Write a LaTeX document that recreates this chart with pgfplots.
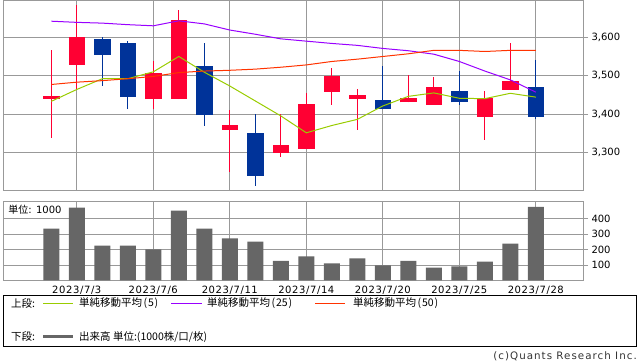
\documentclass[border=0pt]{standalone}
\usepackage{pgfplots}
\pgfplotsset{compat=1.18}
\usepackage{pgfplotstable}
\usepackage{fontspec}
\setmainfont{DejaVu Sans}
\newfontfamily\jp{Noto Sans CJK JP}
\newfontfamily\dls[LetterSpace=6]{DejaVu Sans}
\newfontfamily\dlw[LetterSpace=10]{DejaVu Sans}
\definecolor{upc}{RGB}{255,0,51}
\definecolor{dnc}{RGB}{0,51,153}
\definecolor{maf}{RGB}{153,204,0}
\definecolor{mam}{RGB}{153,0,255}
\definecolor{mas}{RGB}{255,51,0}
\definecolor{vol}{RGB}{102,102,102}
\definecolor{grd}{RGB}{153,153,153}

\pgfplotstableread{
x open high low close
0 3440 3567 3338 3447
1 3528 3683 3463 3601
4 3439 3537 3413 3507
5 3439 3671 3439 3645
7 3359 3410 3250 3371
9 3299 3400 3289 3319
10 3310 3455 3310 3426
11 3458 3520 3424 3500
12 3440 3465 3359 3450
14 3430 3501 3430 3442
15 3424 3497 3424 3470
17 3393 3460 3333 3442
18 3463 3585 3463 3486
}\up
\pgfplotstableread{
x open high low close
2 3596 3601 3474 3554
3 3585 3590 3413 3444
6 3525 3585 3369 3398
8 3350 3400 3213 3239
13 3437 3525 3414 3414
16 3460 3512 3424 3430
19 3470 3541 3388 3393
}\down
\pgfplotstableread{
x ma5 ma25 ma50 vol
0 3433 3642 3477 337
1 3464 3639 3483 473
2 3492 3637 3487 225
3 3492 3633 3492 225
4 3510 3630 3498 201
5 3550 3643 3508 454
6 3509 3635 3512 337
7 3473 3619 3514 272
8 3434 3608 3517 251
9 3395 3596 3522 127
10 3351 3590 3528 156
11 3370 3584 3537 110
12 3386 3579 3543 143
13 3421 3571 3550 97
14 3446 3565 3557 127
15 3455 3556 3566 82
16 3441 3537 3566 91
17 3440 3512 3563 121
18 3454 3489 3566 238
19 3444 3457 3566 477
}\ma

\pgfplotsset{
  panel/.style={
    scale only axis, anchor=south west,
    width=580bp,
    xmin=-1.894, xmax=20.85,
    axis line style={grd, line width=0.8bp},
    grid=major, grid style={grd, line width=0.8bp},
    xtick={1,4,...,19},
    major x tick style={draw=none},
    ytick pos=right, yticklabel pos=right,
    tick align=outside, major tick length=5bp,
    major y tick style={grd, line width=0.8bp},
    /pgf/number format/1000 sep={,},
    /pgf/number format/assume math mode=true,
    yticklabel style={font=\fontsize{10bp}{12bp}\selectfont, text=black},
  },
  candle/.style n args={2}{no markers, draw=none, forget plot,
    error bars/.cd, y dir=plus, y explicit, error mark=none,
    error bar style={draw=#1, line width=#2}},
}

\begin{document}
\begin{tikzpicture}
\path[use as bounding box] (0bp,0bp) rectangle (638bp,362bp);

\begin{axis}[panel,
  at={(3bp,171.3bp)}, height=190.2bp,
  ymin=3200, ymax=3696,
  xticklabels={},
  ytick={3300,3400,3500,3600},
]
% wicks
\addplot[candle={upc}{1.2bp}] table[x=x, y=low, y error plus expr=\thisrow{high}-\thisrow{low}] {\up};
\addplot[candle={dnc}{1.2bp}] table[x=x, y=low, y error plus expr=\thisrow{high}-\thisrow{low}] {\down};
% bodies
\addplot[candle={upc}{16.5bp}] table[x=x, y=open, y error plus expr=\thisrow{close}-\thisrow{open}] {\up};
\addplot[candle={dnc}{16.5bp}] table[x=x, y=close, y error plus expr=\thisrow{open}-\thisrow{close}] {\down};
% moving averages
\addplot[maf, line width=1bp, mark=none] table[x=x, y=ma5] {\ma};
\addplot[mam, line width=1bp, mark=none] table[x=x, y=ma25] {\ma};
\addplot[mas, line width=1bp, mark=none] table[x=x, y=ma50] {\ma};
\end{axis}

\begin{axis}[panel,
  at={(3bp,81.7bp)}, height=79.3bp,
  ymin=0, ymax=516,
  ytick={100,200,300,400},
  xticklabels={2023/7/3,2023/7/6,2023/7/11,2023/7/14,2023/7/20,2023/7/25,2023/7/28},
  xticklabel style={font=\dls\fontsize{10bp}{12bp}\selectfont, text=black, yshift=2.5bp},
]
\addplot[ybar, bar width=16bp, bar shift=0pt, fill=vol, draw=none] table[x=x, y=vol] {\ma};
\end{axis}

\node[anchor=west, inner sep=0pt, font=\fontsize{10bp}{12bp}\selectfont] at (8.3bp,152.5bp) {{\jp 単位}: 1000};

% legend
\draw[black, line width=0.8bp] (3.3bp,15.7bp) rectangle (636.5bp,66.7bp);
\begin{scope}[every node/.style={anchor=west, inner sep=0pt, font=\jp\fontsize{10.5bp}{12bp}\selectfont}]
\node at (11bp,58.7bp) {上段:};
\draw[maf, line width=1.3bp] (43bp,58.7bp) -- (73bp,58.7bp);
\node at (79bp,58.7bp) {単純移動平均\kern1.5bp(\kern0.8bp5\kern0.8bp)};
\draw[mam, line width=1.3bp] (171bp,58.7bp) -- (202bp,58.7bp);
\node at (207bp,58.7bp) {単純移動平均\kern1.5bp(\kern0.8bp25\kern0.8bp)};
\draw[mas, line width=1.3bp] (315bp,58.7bp) -- (345bp,58.7bp);
\node at (353bp,58.7bp) {単純移動平均\kern1.5bp(\kern0.8bp50\kern0.8bp)};
\node at (11bp,25.3bp) {下段:};
\draw[vol, line width=3bp] (43bp,25.3bp) -- (73bp,25.3bp);
\node at (79bp,25.3bp) {出来高 単位:(1000株/口/枚)};
\end{scope}
\node[anchor=east, inner sep=0pt, text=black!80, font=\dlw\fontsize{10.3bp}{12bp}\selectfont] at (637bp,5.3bp) {(c)Quants Research Inc.};
\end{tikzpicture}
\end{document}
